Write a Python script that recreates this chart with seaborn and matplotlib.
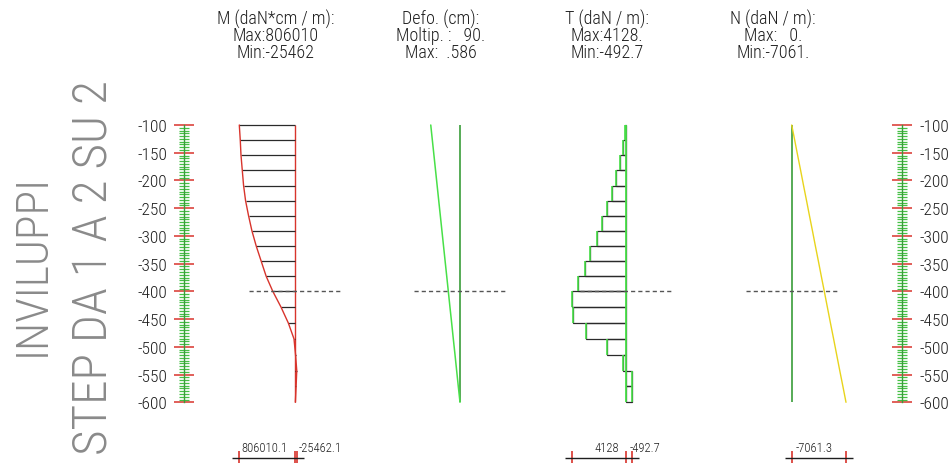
import matplotlib
matplotlib.use("Agg")
import numpy as np
import pandas as pd
import matplotlib.pyplot as plt
import matplotlib.transforms as mtransforms
from matplotlib import font_manager as fm
from matplotlib.ticker import FixedLocator
import seaborn as sns

sns.set_theme(style="white")

# ---------------- pile results ----------------
# node elevations along the pile (cm)
node_elev = [-100.0, -127.3, -154.5, -181.8, -209.1, -236.4, -263.6, -290.9,
             -318.2, -345.5, -372.7, -400.0, -428.6, -457.1, -485.7, -514.3,
             -542.9, -571.4, -600.0]
# bending moment at the nodes (daN*cm/m)
moment = [806010, 792000, 781500, 762800, 744100, 715300, 672100, 623200,
          561300, 489400, 417400, 321000, 201500, 96400, 14400, -8000,
          -25462, -16000, -5000]
# horizontal displacement at the nodes (cm)
deflection = [0.586, 0.554, 0.522, 0.490, 0.458, 0.426, 0.394, 0.362, 0.330,
              0.298, 0.266, 0.234, 0.201, 0.167, 0.134, 0.100, 0.067, 0.034,
              0.0]
# shear force per element (daN/m)
shear = [60, 250, 456, 760, 1064, 1421, 1801, 2227, 2713, 3139, 3648, 4128,
         4005, 3063, 1421, 205, -480, -492.7]
# axial force at the nodes (daN/m)
axial = [0, -390, -770, -1160, -1540, -1930, -2310, -2700, -3080, -3470,
         -3850, -4240, -4640, -5040, -5450, -5850, -6250, -6660, -7061.3]

scale_ticks = [-100, -150, -200, -250, -300, -350, -400, -450, -500, -550, -600]
ground_elev = -400
defo_factor = 90

m_title = ["M (daN*cm / m):", "Max:806010", "Min:-25462"]
d_title = ["Defo. (cm):", "Moltip. :   90.", "Max:  .586"]
t_title = ["T (daN / m):", "Max:4128.", "Min:-492.7"]
n_title = ["N (daN / m):", "Max:   0.", "Min:-7061."]
side_title = ["INVILUPPI", "STEP DA 1 A 2 SU 2"]

m_extremes = [806010.1, -25462.1]
m_extreme_labels = ["806010.1", "-25462.1"]
t_extremes = [4128, -492.7]
t_extreme_labels = ["4128", "-492.7"]
n_extremes = [-7061.3]
n_extreme_labels = ["-7061.3"]

# ---------------- style ----------------
RED = "#d8342c"
GREEN = "#45c045"
GREEN_DARK = "#3a9d3a"
GREEN_BRIGHT = "#48e048"
YELLOW = "#e8d41c"
INK = "#1e1e1e"
HATCH = "#2a2a2a"
GRAY = "#8a8a8a"
DASH = "#555555"


def choose_font(options):
    for fam, weight, stretch, tag in options:
        try:
            path = fm.findfont(fm.FontProperties(family=fam, weight=weight, stretch=stretch),
                               fallback_to_default=False)
        except ValueError:
            continue
        if tag is None or any(t.lower() in path.lower() for t in tag.split("|")):
            return dict(family=fam, weight=weight, stretch=stretch)
    return dict(family="DejaVu Sans", weight="normal", stretch="normal")


narrow = choose_font([
    ("Roboto Condensed", 300, "condensed", "Condensed"),
    ("Liberation Sans Narrow", "normal", "condensed", "Narrow"),
    ("Open Sans Condensed", 300, "condensed", "Cond"),
    ("Roboto", 300, "normal", "Light"),
    ("Liberation Sans", "normal", "normal", "Liberation"),
])
thin = choose_font([
    ("Roboto Condensed", 300, "condensed", "Condensed"),
    ("Open Sans Condensed", 300, "condensed", "CondLight"),
    ("Roboto", 100, "normal", "Thin"),
    ("Lato", 100, "normal", "Thin|Hairline"),
    ("Inter", 100, "normal", "Thin"),
    ("Roboto", 300, "normal", "Light"),
])

plt.rcParams["font.family"] = [narrow["family"], "DejaVu Sans"]
plt.rcParams["font.weight"] = narrow["weight"]
plt.rcParams["font.stretch"] = narrow["stretch"]

W, H = 950, 464
fig = plt.figure(figsize=(W / 100, H / 100), dpi=100, facecolor="white")
renderer = fig.canvas.get_renderer()

# vertical mapping: elevation -100 at y=126 px, -600 at y=403.3 px (from top)
PPU = (403.3 - 126.0) / 500.0
Y_TOP = -100 + 126.0 / PPU
Y_BOT = -600 - (H - 403.3) / PPU


def fy(px):
    return 1 - px / H


def fit_size(text, target_px, props, cap_pt):
    t = fig.text(0, 0, text, fontsize=20, **props)
    w = t.get_window_extent(renderer).width
    t.remove()
    return min(20 * target_px / w, cap_pt)


small_pt = fit_size("Max:806010", 86, narrow, 13.5)
tick_pt = fit_size("-600", 30, narrow, 12.5)
foot_pt = fit_size("806010.1", 46, narrow, 12.0)
big_pt_a = fit_size("INVILUPPI", 182, thin, 48.0)
big_pt_b = fit_size("STEP DA 1 A 2 SU 2", 376, thin, 48.0)


def panel(base_px, units_per_px, half=110):
    ax = fig.add_axes([(base_px - half) / W, 0, 2 * half / W, 1])
    ax.set_xlim(half * units_per_px, -half * units_per_px)
    ax.set_ylim(Y_BOT, Y_TOP)
    ax.axis("off")
    ax.patch.set_alpha(0)
    return ax


def ground(ax, s):
    ax.hlines(ground_elev, 46 * s, -46 * s, color=DASH, lw=1.0,
              linestyles=(0, (3, 2.2)), zorder=4)


def titles(base_px, lines):
    for i, line in enumerate(lines):
        fig.text((base_px - 19) / W, fy([19.0, 36.2, 53.5][i]), line,
                 ha="center", va="center", fontsize=small_pt, color=INK)


def extremes_bar(ax, s, values, labels):
    tr = mtransforms.blended_transform_factory(ax.transData, ax.transAxes)
    ticks = sorted(set([0] + list(values)))
    ax.vlines(ticks, fy(H), fy(452), color=RED, lw=1.2, transform=tr, clip_on=False)
    ax.hlines(fy(459.3), max(ticks) + 7 * s, min(ticks) - 7 * s, color=INK,
              lw=1.0, transform=tr, clip_on=False)
    for v, lab in zip(values, labels):
        if v > 0:
            ax.text(7 * s, fy(449), lab, ha="right", va="center",
                    fontsize=foot_pt, color=INK, transform=tr)
        else:
            ax.text(-4 * s, fy(449), lab, ha="left", va="center",
                    fontsize=foot_pt, color=INK, transform=tr)


def finish(ax, s, half=110):
    ax.set_xlim(half * s, -half * s)
    ax.set_ylim(Y_BOT, Y_TOP)
    ax.axis("off")


# ---------------- bending moment ----------------
s_m = 806010 / 55.7
ax_m = panel(295, s_m)
ax_m.vlines(0, -600, -100, color=RED, lw=1.0)
ax_m.hlines(node_elev, 0, moment, color=HATCH, lw=0.9)
df_m = pd.DataFrame({"M": moment, "z": node_elev})
sns.lineplot(data=df_m, x="M", y="z", sort=False, estimator=None, orient="y",
             color=RED, lw=1.0, ax=ax_m)
ground(ax_m, s_m)
extremes_bar(ax_m, s_m, m_extremes, m_extreme_labels)
finish(ax_m, s_m)
titles(295, m_title)

# ---------------- deformation ----------------
s_d = 1 / PPU
ax_d = panel(460, s_d)
ax_d.vlines(0, -600, -100, color=GREEN_DARK, lw=1.2)
df_d = pd.DataFrame({"u": np.array(deflection) * defo_factor, "z": node_elev})
sns.lineplot(data=df_d, x="u", y="z", sort=False, estimator=None, orient="y",
             color=GREEN_BRIGHT, lw=1.1, ax=ax_d)
ground(ax_d, s_d)
finish(ax_d, s_d)
titles(460, d_title)

# ---------------- shear ----------------
s_t = 4128 / 54.3
ax_t = panel(626, s_t)
top = np.array(node_elev[:-1])
bot = np.array(node_elev[1:])
ax_t.barh(top, shear, height=bot - top, left=0, align="edge",
          facecolor="none", edgecolor=HATCH, lw=0.9)
ax_t.vlines(shear, top, bot, color=GREEN_BRIGHT, lw=1.2, zorder=3)
ax_t.vlines(0, -600, -100, color=GREEN_BRIGHT, lw=1.3, zorder=3)
ground(ax_t, s_t)
extremes_bar(ax_t, s_t, t_extremes, t_extreme_labels)
titles(626, t_title)

# ---------------- axial force ----------------
s_n = 7061.3 / 54.3
ax_n = panel(791.7, s_n)
ax_n.vlines(0, -600, -100, color=GREEN_DARK, lw=1.2)
df_n = pd.DataFrame({"N": axial, "z": node_elev})
sns.lineplot(data=df_n, x="N", y="z", sort=False, estimator=None, orient="y",
             color=YELLOW, lw=1.0, ax=ax_n)
ground(ax_n, s_n)
extremes_bar(ax_n, s_n, n_extremes, n_extreme_labels)
finish(ax_n, s_n)
titles(791.7, n_title)

# ---------------- elevation scales ----------------
minor = [v for v in np.arange(-600, -99, 5) if v % 50 != 0]


def scale_axis(x_px, side):
    ax = fig.add_axes([x_px / W, 0, 0.0001, 1])
    ax.set_ylim(Y_BOT, Y_TOP)
    ax.set_xticks([])
    ax.patch.set_alpha(0)
    for k, sp in ax.spines.items():
        sp.set_visible(k == side)
    ax.spines[side].set_color(GREEN_DARK)
    ax.spines[side].set_linewidth(1.0)
    ax.spines[side].set_bounds(-600, -100)
    ax.yaxis.set_major_locator(FixedLocator(scale_ticks))
    ax.yaxis.set_minor_locator(FixedLocator(minor))
    ax.set_yticklabels([str(v) for v in scale_ticks])
    if side == "right":
        ax.yaxis.tick_right()
    else:
        ax.yaxis.tick_left()
    ax.tick_params(axis="y", which="major", direction="inout", length=14.4,
                   width=1.1, color=RED, pad=5, labelsize=tick_pt, labelcolor=INK)
    ax.tick_params(axis="y", which="minor", direction="inout", length=7.2,
                   width=0.9, color=GREEN)
    return ax


scale_axis(184, "left")
scale_axis(902, "right")

# ---------------- side captions ----------------
fig.text(33 / W, fy(265), side_title[0], rotation=90, rotation_mode="anchor",
         ha="center", va="center", fontsize=big_pt_a, color=GRAY, **thin)
fig.text(94 / W, fy(80), side_title[1], rotation=90, rotation_mode="anchor",
         ha="right", va="center", fontsize=big_pt_b, color=GRAY, **thin)

fig.savefig("out.png", dpi=100, facecolor="white")
